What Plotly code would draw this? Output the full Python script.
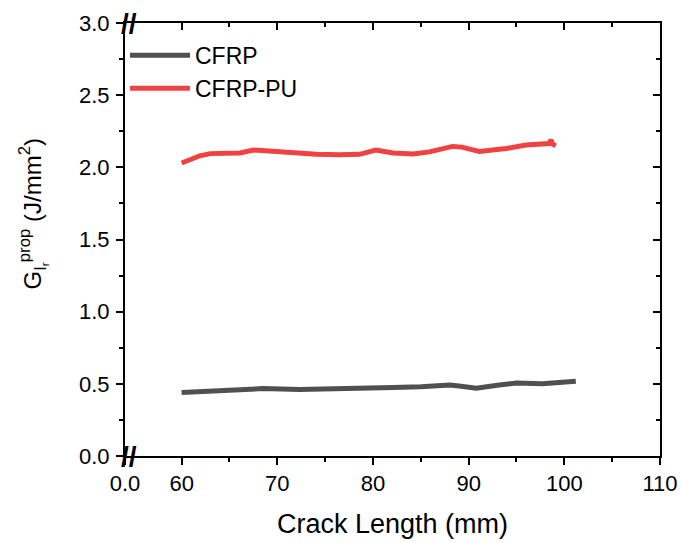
import plotly.graph_objects as go

# ---- data ----
cfrp_x = [60.0, 61.5, 63.6, 66.0, 68.5, 72.3, 75.8, 77.5, 78.3, 80.0, 82.1,
          85.0, 88.0, 89.0, 90.8, 93.0, 95.0, 97.7, 99.5, 101.2]
cfrp_y = [0.44, 0.445, 0.455, 0.46, 0.467, 0.46, 0.462, 0.47, 0.465, 0.468,
          0.474, 0.48, 0.492, 0.485, 0.47, 0.49, 0.505, 0.50, 0.508, 0.518]

pu_x = [60.0, 60.8, 61.9, 63.0, 64.5, 66.1, 67.5, 69.6, 72.3, 74.1, 76.5,
        78.6, 80.3, 82.1, 84.2, 85.9, 88.3, 89.3, 91.1, 93.9, 96.0, 97.7,
        98.4, 98.6, 98.8, 99.1]
pu_y = [2.03, 2.05, 2.08, 2.095, 2.10, 2.10, 2.12, 2.11, 2.10, 2.09, 2.088,
        2.09, 2.12, 2.10, 2.092, 2.107, 2.145, 2.14, 2.11, 2.13, 2.155, 2.165,
        2.165, 2.19, 2.16, 2.148]

series_names = ["CFRP", "CFRP-PU"]

# broken x axis: "0.0" label sits at the break position
x_break_pos = 54.08
x_tick_vals = [x_break_pos, 60, 70, 80, 90, 100, 110]
x_tick_text = ["0.0", "60", "70", "80", "90", "100", "110"]
x_minor_vals = [65, 75, 85, 95, 105]

y_tick_vals = [0.0, 0.5, 1.0, 1.5, 2.0, 2.5, 3.0]
y_tick_text = ["0.0", "0.5", "1.0", "1.5", "2.0", "2.5", "3.0"]
y_minor_vals = [0.25, 0.75, 1.25, 1.75, 2.25, 2.75]

FONT = "Liberation Sans, Arial, sans-serif"

fig = go.Figure()
fig.add_trace(go.Scatter(x=cfrp_x, y=cfrp_y, mode="lines", name=series_names[0],
                         line=dict(color="#505050", width=5)))
fig.add_trace(go.Scatter(x=pu_x, y=pu_y, mode="lines", name=series_names[1],
                         line=dict(color="#F04242", width=5)))

axis_common = dict(showline=True, linecolor="black", linewidth=2,
                   showgrid=False, zeroline=False, automargin=False)

fig.update_layout(
    width=681, height=543,
    margin=dict(l=125, r=21, t=23, b=87),
    plot_bgcolor="white", paper_bgcolor="white",
    font=dict(family=FONT, color="black"),
    showlegend=True,
    legend=dict(x=0.0, y=0.975, xanchor="left", yanchor="top",
                font=dict(size=23, family=FONT), bgcolor="rgba(0,0,0,0)",
                itemwidth=60, tracegroupgap=0),
    xaxis=dict(range=[x_break_pos, 110], tickmode="array", tickvals=x_tick_vals,
               ticktext=x_tick_text, ticks="outside", ticklen=7, tickwidth=2,
               tickcolor="black", tickfont=dict(size=22),
               minor=dict(tickmode="array", tickvals=x_minor_vals, ticks="outside",
                          ticklen=4, tickwidth=2, tickcolor="black"),
               **axis_common),
    xaxis2=dict(range=[x_break_pos, 110], overlaying="x", side="top",
                tickmode="array", tickvals=x_tick_vals[1:], showticklabels=False,
                ticks="inside", ticklen=7, tickwidth=2, tickcolor="black",
                minor=dict(tickmode="array", tickvals=x_minor_vals, ticks="inside",
                           ticklen=4, tickwidth=2, tickcolor="black"),
                **axis_common),
    yaxis=dict(range=[0, 3.0], tickmode="array", tickvals=y_tick_vals,
               ticktext=y_tick_text, ticks="outside", ticklen=7, tickwidth=2,
               tickcolor="black", tickfont=dict(size=22), ticklabelstandoff=2,
               minor=dict(tickmode="array", tickvals=y_minor_vals, ticks="outside",
                          ticklen=4, tickwidth=2, tickcolor="black"),
               **axis_common),
    yaxis2=dict(range=[0, 3.0], overlaying="y", side="right",
                tickmode="array", tickvals=y_tick_vals, showticklabels=False,
                ticks="inside", ticklen=7, tickwidth=2, tickcolor="black",
                minor=dict(tickmode="array", tickvals=y_minor_vals, ticks="inside",
                           ticklen=4, tickwidth=2, tickcolor="black"),
                **axis_common),
)

# dummy invisible trace to activate the mirror axes
fig.add_trace(go.Scatter(x=[x_break_pos], y=[0], xaxis="x2", yaxis="y2",
                         mode="markers", marker=dict(opacity=0),
                         showlegend=False, hoverinfo="skip"))

# axis titles as annotations
fig.add_annotation(text="Crack Length (mm)", xref="paper", yref="paper",
                   x=0.5, y=-0.157, showarrow=False, xanchor="center", yanchor="middle",
                   font=dict(size=27, family=FONT))
fig.add_annotation(text="G<sub>I<sub>r</sub></sub><sup>prop</sup> (J/mm<sup>2</sup>)",
                   xref="paper", yref="paper", x=-0.172, y=0.56, textangle=-90,
                   showarrow=False, xanchor="center", yanchor="middle",
                   font=dict(size=24, family=FONT))

# axis-break marks on the x axis
for yy in (0, 1):
    fig.add_annotation(text="<b>//</b>", xref="paper", yref="paper", x=0.008, y=yy,
                       showarrow=False, xanchor="center", yanchor="middle",
                       font=dict(size=28, family=FONT, color="black"),
                       bgcolor="rgba(0,0,0,0)")

fig.write_html("out.html")
